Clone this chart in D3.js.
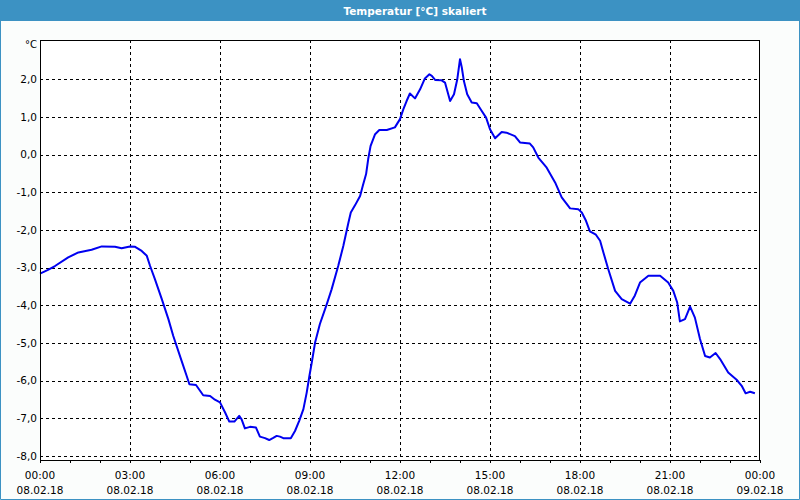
<!DOCTYPE html>
<html>
<head>
<meta charset="utf-8">
<script src="https://cdn.jsdelivr.net/npm/d3@7"></script>
<style>
html,body{margin:0;padding:0;background:#fbfdfc;}
svg{display:block;}
text{font-family:"DejaVu Sans",Verdana,sans-serif;}
</style>
</head>
<body>
<svg id="chart" width="800" height="500"></svg>
<script>
const title = "Temperatur [°C] skaliert";
const unitLabel = "°C";
// time in hours since 08.02.18 00:00
const hours = [0.0,0.25,0.5,0.94,1.28,1.72,2.06,2.5,2.72,3.0,3.17,3.39,3.56,3.67,3.83,4.06,4.28,4.44,4.72,4.89,4.98,5.2,5.44,5.67,5.83,6.0,6.17,6.31,6.48,6.64,6.72,6.83,7.0,7.2,7.33,7.5,7.64,7.76,7.89,8.0,8.11,8.36,8.5,8.64,8.78,8.89,8.98,9.06,9.17,9.33,9.56,9.72,9.94,10.11,10.28,10.36,10.5,10.67,10.76,10.87,10.94,11.02,11.17,11.31,11.56,11.83,12.0,12.11,12.22,12.33,12.5,12.67,12.83,12.98,13.06,13.17,13.39,13.5,13.67,13.8,13.91,14.0,14.06,14.13,14.24,14.39,14.56,14.72,14.87,15.0,15.17,15.39,15.55,15.83,16.0,16.33,16.44,16.61,16.89,17.17,17.39,17.67,17.94,18.06,18.2,18.33,18.53,18.67,18.78,18.94,19.17,19.39,19.67,19.83,20.0,20.28,20.67,20.94,21.11,21.24,21.33,21.5,21.67,21.83,22.0,22.17,22.33,22.52,22.67,22.94,23.22,23.39,23.52,23.67,23.83];
const temps = [-3.16,-3.07,-2.96,-2.73,-2.60,-2.53,-2.44,-2.45,-2.49,-2.44,-2.45,-2.56,-2.69,-2.96,-3.31,-3.84,-4.37,-4.81,-5.48,-5.88,-6.10,-6.12,-6.39,-6.41,-6.51,-6.58,-6.85,-7.09,-7.09,-6.94,-7.03,-7.27,-7.23,-7.25,-7.49,-7.53,-7.58,-7.53,-7.47,-7.49,-7.53,-7.53,-7.34,-7.07,-6.76,-6.32,-5.88,-5.52,-4.99,-4.50,-3.97,-3.58,-2.96,-2.43,-1.81,-1.54,-1.35,-1.10,-0.83,-0.52,-0.12,0.23,0.54,0.65,0.65,0.72,0.94,1.20,1.42,1.62,1.49,1.73,2.02,2.13,2.09,1.98,1.97,1.91,1.42,1.60,2.00,2.53,2.31,1.95,1.60,1.38,1.36,1.16,0.98,0.67,0.43,0.60,0.58,0.49,0.32,0.29,0.19,-0.08,-0.35,-0.74,-1.14,-1.43,-1.45,-1.54,-1.76,-2.04,-2.13,-2.29,-2.60,-3.04,-3.62,-3.84,-3.96,-3.74,-3.40,-3.22,-3.22,-3.40,-3.62,-3.93,-4.43,-4.37,-4.04,-4.33,-4.90,-5.35,-5.39,-5.27,-5.43,-5.79,-5.98,-6.14,-6.34,-6.30,-6.34];
const yTicks = [2,1,0,-1,-2,-3,-4,-5,-6,-7,-8];
const xMajorTicks = [0,3,6,9,12,15,18,21,24];
const xTimeLabels = ["00:00","03:00","06:00","09:00","12:00","15:00","18:00","21:00","00:00"];
const xDateLabels = ["08.02.18","08.02.18","08.02.18","08.02.18","08.02.18","08.02.18","08.02.18","08.02.18","09.02.18"];
const xMinorTicks = d3.range(0,25,1);

const svg = d3.select("#chart");
const W = 800, H = 500;
const L = 40, R = 760, T = 40, B = 460;

const x = d3.scaleLinear().domain([0,24]).range([L,R]);
const y = d3.scaleLinear().domain([-8.11,3.04]).range([B,T]);
const loc = d3.formatLocale({decimal:",",thousands:".",grouping:[3],currency:["","€"],minus:"-"});
const fmt = loc.format(".1f");

// background
svg.append("rect").attr("x",0).attr("y",0).attr("width",W).attr("height",H).attr("fill","#fbfdfc");
// title bar
svg.append("rect").attr("x",0).attr("y",0).attr("width",W).attr("height",21).attr("fill","#3c92c3");
svg.append("text").attr("x",415).attr("y",14.5).attr("text-anchor","middle")
  .attr("fill","#ffffff").attr("font-weight","bold").attr("font-size","10.5px").text(title);
// window border
svg.append("path").attr("d",`M0.5,21V499.5H799.5V21`).attr("fill","none").attr("stroke","#3c92c3").attr("stroke-width",1);

// plot area
svg.append("rect").attr("x",L).attr("y",T).attr("width",R-L).attr("height",B-T).attr("fill","#ffffff");

// horizontal gridlines
svg.append("g").selectAll("line").data(yTicks).join("line")
  .attr("x1",L).attr("x2",R)
  .attr("y1",d=>Math.round(y(d))+0.5).attr("y2",d=>Math.round(y(d))+0.5)
  .attr("stroke","#000").attr("stroke-width",1).attr("stroke-dasharray","3,3")
  .attr("shape-rendering","crispEdges");
// vertical gridlines
svg.append("g").selectAll("line").data(xMajorTicks.filter(d=>d>0&&d<24)).join("line")
  .attr("x1",d=>Math.round(x(d))+0.5).attr("x2",d=>Math.round(x(d))+0.5)
  .attr("y1",T).attr("y2",B)
  .attr("stroke","#000").attr("stroke-width",1).attr("stroke-dasharray","3,3")
  .attr("shape-rendering","crispEdges");

// minor ticks below axis
svg.append("g").selectAll("line").data(xMinorTicks).join("line")
  .attr("x1",d=>Math.round(x(d))+0.5).attr("x2",d=>Math.round(x(d))+0.5)
  .attr("y1",B).attr("y2",B+3)
  .attr("stroke","#000").attr("stroke-width",1).attr("shape-rendering","crispEdges");

// data line
const line = d3.line().x((d,i)=>x(hours[i])).y((d,i)=>y(temps[i]));
svg.append("path").datum(temps).attr("d",line)
  .attr("fill","none").attr("stroke","#0000f0").attr("stroke-width",2).attr("stroke-linejoin","round");

// frame
svg.append("rect").attr("x",L+0.5).attr("y",T+0.5).attr("width",R-L-1).attr("height",B-T)
  .attr("fill","none").attr("stroke","#000").attr("stroke-width",1).attr("shape-rendering","crispEdges");

// y labels
svg.append("g").selectAll("text").data(yTicks).join("text")
  .attr("x",37).attr("y",d=>y(d)).attr("dy","0.35em").attr("text-anchor","end")
  .attr("font-size","10.5px").attr("fill","#000").text(d=>fmt(d));
svg.append("text").attr("x",37).attr("y",T+4).attr("dy","0.35em").attr("text-anchor","end")
  .attr("font-size","10px").attr("fill","#000").text(unitLabel);

// x labels
const xl = svg.append("g");
xl.selectAll("text.t").data(xMajorTicks).join("text").attr("class","t")
  .attr("x",d=>x(d)).attr("y",479).attr("text-anchor","middle")
  .attr("font-size","10.5px").attr("fill","#000").text((d,i)=>xTimeLabels[i]);
xl.selectAll("text.d").data(xMajorTicks).join("text").attr("class","d")
  .attr("x",d=>x(d)).attr("y",494).attr("text-anchor","middle")
  .attr("font-size","10.5px").attr("fill","#000").text((d,i)=>xDateLabels[i]);
</script>
</body>
</html>
